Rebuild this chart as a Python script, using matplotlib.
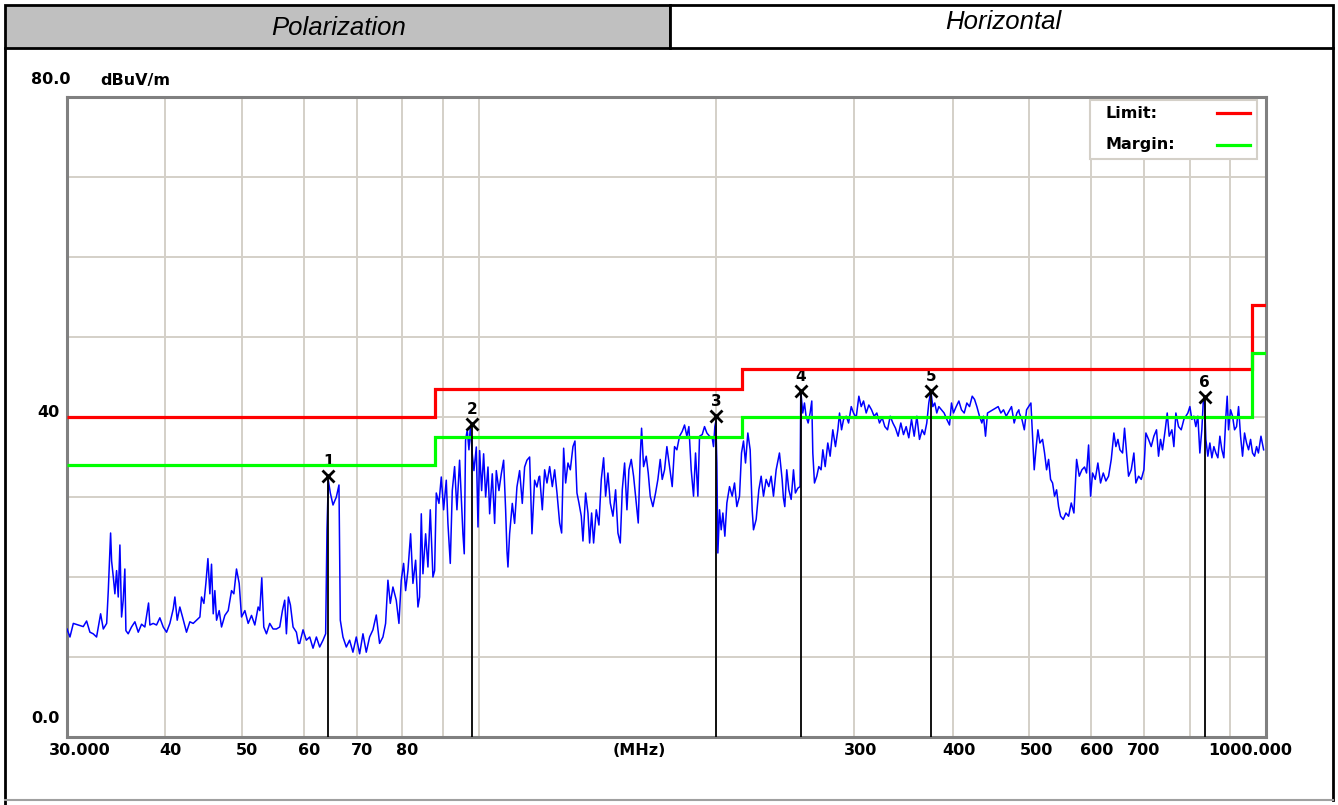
import matplotlib
matplotlib.use('Agg')
import matplotlib.pyplot as plt
import matplotlib.transforms as mtransforms
from matplotlib import font_manager
from matplotlib.patches import Rectangle
from matplotlib.lines import Line2D

trace_freq = [
    30.00, 30.26, 30.56, 31.00, 31.46, 31.77, 32.08, 32.39, 32.71, 33.10, 33.36, 33.69, 33.85, 34.08,
    34.18, 34.35, 34.51, 34.68, 34.85, 35.02, 35.19, 35.36, 35.53, 35.64, 35.88, 36.23, 36.59, 36.95,
    37.31, 37.67, 38.08, 38.23, 38.60, 38.98, 39.36, 39.75, 40.14, 40.53, 40.93, 41.13, 41.41, 41.73,
    42.06, 42.55, 42.97, 43.39, 43.82, 44.25, 44.46, 44.77, 45.03, 45.30, 45.56, 45.78, 46.01, 46.23,
    46.46, 46.82, 47.14, 47.60, 48.07, 48.54, 48.87, 49.25, 49.64, 49.98, 50.47, 50.96, 51.46, 51.96,
    52.47, 52.72, 53.03, 53.34, 53.76, 54.28, 54.81, 55.35, 55.89, 56.33, 56.71, 56.99, 57.32, 57.66,
    58.11, 58.68, 59.02,
    59.25, 59.83, 60.41, 61.01, 61.60, 62.21, 62.81, 63.43, 63.92, 64.17, 64.42, 64.80, 65.31, 65.95,
    66.46, 66.72, 67.24, 67.90, 68.56, 69.23, 69.91, 70.60, 71.29, 71.98, 72.69, 73.40, 74.12, 74.84,
    75.58, 76.17, 76.69, 77.22, 77.82, 78.58, 79.20, 79.74, 80.29, 80.76, 81.31, 81.95, 82.51, 83.16,
    83.73, 84.13, 84.55, 84.96, 85.63, 86.21, 86.80, 87.48, 87.91, 88.34, 89.03, 89.64, 90.25, 90.96,
    91.40, 92.03, 92.57, 93.20, 93.84, 94.57, 95.03, 95.50, 95.87, 96.24, 96.72, 97.19, 97.57, 98.14,
    98.63, 99.31, 99.80, 100.28, 100.87, 101.46, 102.06, 102.76, 103.26, 104.06, 104.78, 105.29,
    106.11, 106.84, 107.57, 108.20, 108.62, 108.94, 109.47, 110.33, 111.08, 111.84, 112.72, 113.60,
    114.38, 115.16, 116.07, 116.86, 117.77, 118.58, 119.28,
    119.52, 120.45, 121.28, 122.11, 123.07, 124.03, 124.88, 125.74, 126.72, 127.46, 128.21, 128.96,
    129.84, 130.73, 131.75, 132.52, 133.30, 134.08, 135.00, 135.66, 136.72, 137.66, 138.33, 139.14,
    139.95, 141.05, 142.15, 143.13, 144.11, 144.95, 145.94, 146.94, 148.09, 149.25, 150.27, 151.30,
    152.19, 153.23, 154.28, 155.18, 156.24, 157.31, 158.54, 159.47, 160.40, 161.03, 161.97, 163.24,
    164.20, 165.16, 166.45, 167.75, 168.90, 170.05, 171.05, 172.22, 173.40, 174.75, 176.12, 177.33,
    178.54, 179.94, 181.35, 182.59, 183.84, 184.92, 186.18, 187.46, 188.56, 189.85, 190.78, 192.27,
    193.58, 194.91, 196.43, 197.97, 198.74, 199.52, 200.10, 200.69, 201.28, 202.27, 203.25, 204.25,
    205.44, 206.65, 208.26, 209.89, 211.33, 212.77, 214.43, 215.69, 216.95, 218.23, 219.72, 221.22,
    222.52, 223.39, 225.14, 226.90, 228.45, 230.01, 231.81, 233.62, 235.22, 236.83, 238.69, 240.56,
    241.0, 242.9, 243.8, 244.8, 246.2, 247.7, 249.4, 251.1, 252.5, 254.3, 256.0, 256.5, 258.0, 259.3,
    260.5, 262.1, 263.6, 264.9, 265.7, 267.0, 268.8, 270.4, 272.2, 273.6, 275.5, 277.6, 279.5, 281.7,
    283.9, 285.9, 287.3, 289.0, 290.7, 293.0, 295.0, 297.3, 299.3, 301.6, 304.0, 306.1, 308.2, 310.6,
    313.0, 315.5, 317.9, 320.4, 322.9, 325.5, 328.0, 330.6, 333.2, 335.8, 338.4, 341.0, 343.7, 346.4,
    349.1, 351.8, 354.6, 357.4, 360.2, 363.0, 365.8, 368.3, 370.8, 373.0, 375.2, 377.4, 379.6, 381.8,
    384.1, 387.1, 390.1, 393.2, 396.3, 398.6, 400.9, 404.1, 407.3, 410.4, 413.7, 416.9, 420.2, 423.5,
    426.4, 429.3, 432.6, 435.6, 437.7, 440.3, 442.9, 446.3, 449.8, 453.4, 456.9, 460.5, 464.1, 467.8,
    471.4, 475.1, 478.8, 482.6, 485.4,
    486.0, 489.8, 493.2, 496.5, 499.4, 502.8, 505.3, 507.7, 510.2, 513.2, 516.2, 520.2, 523.3, 526.4,
    529.5, 532.6, 535.7, 538.8, 542.0, 545.2, 548.4, 552.7, 557.0, 561.4, 565.8, 570.2, 574.7, 579.2,
    583.7, 588.2, 591.7, 595.2, 598.7, 602.2, 606.9, 611.6, 616.4, 621.3, 626.1, 631.0, 636.0, 640.9,
    644.7, 648.5, 652.3, 657.4, 661.2, 665.1, 669.0, 674.3, 679.5, 683.5, 688.9, 694.3, 699.7, 703.8,
    709.3, 714.8, 720.4, 726.0, 730.3, 734.6, 738.9, 744.7, 749.1, 753.5, 759.4, 763.8, 768.3, 774.3,
    780.4, 786.5, 791.1, 795.7, 800.4, 805.1, 809.8, 814.5, 819.3, 824.1, 828.9, 832.2, 835.4, 838.7,
    843.6, 848.6, 853.6, 858.6, 863.6, 868.7, 873.8, 878.9, 884.0, 889.3, 892.7, 896.2, 901.5, 906.8,
    912.1, 917.5, 922.9, 928.3, 933.7, 939.2, 944.7, 950.3, 955.9, 961.4, 967.1, 972.8, 978.0, 985.4,
    993.1,
]
trace_level = [
    13.5, 12.5, 14.2, 14.0, 13.8, 14.5, 13.1, 12.9, 12.5, 15.4, 13.5, 14.2, 18.3, 25.5,
    22.0, 20.0, 17.9, 20.8, 17.5, 24.0, 15.0, 17.1, 21.0, 13.3, 12.9, 13.75, 14.4, 13.1,
    14.1, 13.75, 16.75, 14.0, 14.2, 14.0, 14.9, 13.75, 13.1, 14.2, 16.0, 17.5, 14.6, 16.25,
    15.0, 13.1, 14.4, 14.2, 14.6, 15.0, 17.5, 16.7, 19.2, 22.3, 17.9, 21.6, 15.4, 18.3,
    14.6, 15.8, 13.75, 15.2, 15.8, 18.3, 17.9, 21.0, 19.2, 15.0, 15.8, 14.2, 15.2, 14.0,
    16.25, 15.8, 19.9, 13.75, 12.9, 14.2, 13.5, 13.5, 13.75, 15.8, 17.1, 12.9, 17.5, 16.5,
    13.75, 13.1, 11.7,
    11.7, 13.4, 12.1, 12.5, 11.1, 12.5, 11.25, 12.1, 12.9, 25.9, 32.1, 30.5, 29.0, 30.0,
    31.5, 14.6, 12.5, 11.25, 12.1, 10.6, 12.5, 10.4, 12.9, 10.6, 12.5, 13.4, 15.25, 11.7,
    12.5, 14.2, 19.6, 16.7, 18.75, 17.1, 14.2, 19.6, 21.7, 18.3, 20.8, 25.4, 19.2, 22.1,
    16.25, 17.5, 27.9, 20.4, 25.4, 21.25, 28.4, 20.0, 20.8, 30.5, 29.2, 32.5, 28.4, 32.1,
    26.7, 21.7, 30.8, 33.8, 28.4, 34.6, 30.0, 25.4, 22.9, 37.1, 38.4, 35.9, 38.75, 35.4,
    33.3, 36.25, 26.25, 35.8, 30.8, 35.4, 30.0, 33.75, 27.9, 32.9, 26.7, 33.3,
    30.8, 32.9, 34.6, 28.4, 23.3, 21.25, 25.4, 29.2, 26.7, 31.25, 33.3, 29.2,
    33.75, 34.6, 35.0, 25.4, 32.1, 31.25, 32.5,
    32.6, 28.4, 33.4, 31.75, 33.8, 31.3, 33.4, 30.5, 26.75, 25.5, 36.1, 31.75,
    34.25, 33.4, 36.3, 37.0, 30.5, 29.25, 27.6, 24.5, 30.5, 28.0, 24.25, 28.0,
    24.25, 28.4, 26.5, 32.2, 34.9, 30.1, 33.0, 29.25, 27.6, 30.9, 25.5, 24.25,
    30.9, 34.25, 28.4, 33.4, 34.7, 32.6, 29.25, 26.75, 35.1, 38.6, 33.8, 35.1,
    33.0, 30.1, 28.8, 30.5, 32.2, 34.7, 32.2, 33.4, 36.3, 33.8, 31.3, 36.3,
    35.9, 37.6, 38.2, 39.0, 37.6, 38.8, 33.4, 30.1, 35.5, 30.1, 37.6, 37.8,
    38.8, 38.0, 37.6, 37.4, 36.3, 38.8, 39.5, 34.25, 23.0, 28.4, 25.9, 28.0,
    25.1, 29.25, 31.3, 30.1, 31.75, 28.8, 30.1, 35.5, 37.0, 34.25, 38.0, 35.9,
    28.4, 25.9, 27.2, 30.9, 32.6, 30.1, 32.2, 31.3, 32.6, 30.1, 33.4, 35.1,
    35.5, 32.2, 29.9, 28.8, 33.4, 30.9, 29.7, 33.4, 30.5, 31.1, 31.3, 43.3, 40.5, 41.75,
    40.1, 39.25, 40.5, 42.0, 35.5, 31.75, 32.6, 33.8, 33.4, 35.9, 33.8, 36.75, 35.1, 38.4,
    36.3, 38.4, 40.5, 38.4, 39.7, 40.1, 39.25, 41.3, 40.5, 39.9, 42.6, 41.3, 42.0, 40.5,
    41.5, 40.9, 40.1, 40.5, 39.25, 39.9, 38.8, 38.4, 40.1, 39.25, 38.6, 37.6, 39.25, 37.8,
    38.8, 37.4, 39.7, 37.6, 40.1, 37.2, 38.4, 37.8, 39.25, 41.75, 43.3, 41.3, 41.75, 40.5,
    41.3, 40.9, 40.5, 39.7, 39.0, 41.75, 40.5, 41.3, 42.0, 40.9, 40.5, 41.75, 41.3, 42.6,
    42.2, 41.3, 40.1, 39.25, 40.1, 37.6, 40.5, 40.7, 40.9, 41.1, 41.3, 40.5, 40.9, 40.1,
    40.7, 41.3, 39.25, 40.5, 40.9,
    40.5, 39.7, 38.4, 40.9, 41.3, 41.75, 37.6, 33.4, 35.9, 38.4, 36.75, 37.2, 35.5, 33.4,
    34.7, 32.2, 31.75, 30.1, 30.9, 28.8, 27.6, 27.2, 28.0, 27.6, 29.25, 28.0, 34.7, 32.6,
    33.4, 33.75, 33.0, 36.5, 30.1, 33.0, 32.2, 34.25, 31.75, 33.0, 32.0, 32.6, 34.7, 38.0,
    36.3, 37.2, 35.9, 35.5, 38.6, 35.5, 32.6, 33.4, 35.5, 31.75, 32.6, 32.2, 33.4, 38.0,
    37.2, 36.3, 37.6, 38.4, 35.1, 37.2, 35.9, 38.4, 40.5, 37.6, 38.4, 36.3, 40.5, 38.8,
    38.4, 39.7, 40.1, 40.5, 41.3, 39.7, 40.1, 38.8, 40.1, 35.5, 38.4, 41.75, 42.5, 37.2,
    35.1, 36.75, 34.9, 36.3, 35.5, 34.9, 37.6, 35.9, 34.9, 40.1, 42.6, 38.4, 40.9, 40.1,
    38.4, 38.8, 41.3, 37.6, 35.1, 38.0, 36.75, 35.9, 37.2, 35.5, 35.1, 36.3, 35.5, 37.6,
    35.9,
]

# FCC class B style limit and margin (limit - 6 dB)
limit_edges = [30, 88, 216, 960, 1000]
limit_values = [40, 43.5, 46, 54]
margin_values = [34, 37.5, 40, 48]

marker_ids = ['1', '2', '3', '4', '5', '6']
marker_freq = [64.4, 98.0, 200.1, 256.5, 375.2, 835.4]
marker_level = [32.6, 39.1, 40.1, 43.3, 43.3, 42.5]

grid_freq = [40, 50, 60, 70, 80, 90, 100, 200, 300, 400, 500, 600, 700, 800, 900]
tick_freq = [30, 40, 50, 60, 70, 80, 300, 400, 500, 600, 700, 1000]
tick_text = ['30.000', '40', '50', '60', '70', '80', '300', '400', '500', '600', '700', '1000.000']
tick_shift = [13, 5, 5, 5, 5, 5, 6, 6, 8, 5, 0, -16]  # pixel nudges like the original
unit_freq = 160  # where "(MHz)" sits on the axis

W, H = 1338, 805
installed = {f.name for f in font_manager.fontManager.ttflist}
label_font = 'Liberation Sans Narrow' if 'Liberation Sans Narrow' in installed else 'DejaVu Sans'
head_font = 'Liberation Sans' if 'Liberation Sans' in installed else 'DejaVu Sans'

fig = plt.figure(figsize=(W / 100, H / 100), dpi=100)
fig.patch.set_facecolor('white')


def fx(px):
    return px / W


def fy(py):
    return 1 - py / H


# header row
fig.add_artist(Rectangle((fx(5), fy(48)), fx(665), fy(5) - fy(48), transform=fig.transFigure,
                         facecolor='#c0c0c0', edgecolor='black', lw=2))
fig.add_artist(Rectangle((fx(670), fy(48)), fx(663), fy(5) - fy(48), transform=fig.transFigure,
                         facecolor='white', edgecolor='black', lw=2))
fig.text(fx(339), fy(28), 'Polarization', ha='center', va='center', fontsize=18.5,
         style='italic', family=head_font)
fig.text(fx(1003), fy(22), 'Horizontal', ha='center', va='center', fontsize=18.5,
         style='italic', family=head_font)
# outer frame below header
fig.add_artist(Line2D([fx(5), fx(5)], [fy(48), fy(805)], transform=fig.transFigure, color='black', lw=2))
fig.add_artist(Line2D([fx(1333), fx(1333)], [fy(48), fy(800)], transform=fig.transFigure, color='black', lw=2))
fig.add_artist(Line2D([fx(5), fx(1333)], [fy(800), fy(800)], transform=fig.transFigure, color='#a0a0a0', lw=1.5))

ax = fig.add_axes([fx(67), fy(737), fx(1266) - fx(67), fy(97) - fy(737)])
ax.set_xscale('log')
ax.set_xlim(30, 1000)
ax.set_ylim(0, 80)
ax.set_xticks(grid_freq)
ax.set_xticks([], minor=True)
ax.set_yticks(range(0, 81, 10))
ax.set_xticklabels([])
ax.set_yticklabels([])
ax.tick_params(length=0)
ax.grid(True, color='#d4d0c8', lw=1.4)
ax.set_axisbelow(True)
for s in ax.spines.values():
    s.set_color('#808080')
    s.set_linewidth(2.2)

ax.plot(trace_freq, trace_level, color='#0000ff', lw=1.1, zorder=3)
ax.stairs(limit_values, limit_edges, baseline=None, color='#ff0000', lw=2.3, zorder=4)
ax.stairs(margin_values, limit_edges, baseline=None, color='#00ff00', lw=2.3, zorder=4)

ax.vlines(marker_freq, 0, marker_level, color='black', lw=1.3, zorder=5)
ax.plot(marker_freq, marker_level, ls='none', marker='x', ms=9, mew=2, color='black', zorder=6)
for f, v, t in zip(marker_freq, marker_level, marker_ids):
    ax.annotate(t, (f, v), xytext=(0, 5), textcoords='offset points', ha='center', va='bottom',
                fontsize=11, fontweight='bold', family=label_font)

# x labels
bt = mtransforms.blended_transform_factory(ax.transData, ax.transAxes)
for f, t, dx in zip(tick_freq, tick_text, tick_shift):
    tr = mtransforms.offset_copy(bt, fig=fig, x=dx, y=-13, units='dots')
    ax.text(f, 0, t, transform=tr, ha='center', va='center', fontsize=11.5,
            fontweight='bold', family=label_font)
tr = mtransforms.offset_copy(bt, fig=fig, x=0, y=-13, units='dots')
ax.text(unit_freq, 0, '(MHz)', transform=tr, ha='center', va='center',
        fontsize=11.5, fontweight='bold', family=label_font)

# y labels
yt = mtransforms.blended_transform_factory(ax.transAxes, ax.transData)
ax.text(-0.006, 40, '40', transform=mtransforms.offset_copy(yt, fig=fig, x=0, y=5, units='dots'),
        ha='right', va='center', fontsize=11.5, fontweight='bold', family=label_font)
ax.text(-0.006, 0, '0.0', transform=mtransforms.offset_copy(yt, fig=fig, x=0, y=19, units='dots'),
        ha='right', va='center', fontsize=11.5, fontweight='bold', family=label_font)
ax.text(0.003, 80, '80.0', transform=mtransforms.offset_copy(yt, fig=fig, x=0, y=17, units='dots'),
        ha='right', va='center', fontsize=11.5, fontweight='bold', family=label_font)
ax.text(0.028, 80, 'dBuV/m', transform=mtransforms.offset_copy(yt, fig=fig, x=0, y=17, units='dots'),
        ha='left', va='center', fontsize=11.5, fontweight='bold', family=label_font)

# legend box, text left and line right
ax.add_patch(Rectangle((0.853, 0.903), 0.1395, 0.092, transform=ax.transAxes, facecolor='white',
                       edgecolor='#d4d0c8', lw=1.5, zorder=7))
for yy, name, col in [(0.975, 'Limit:', '#ff0000'), (0.925, 'Margin:', '#00ff00')]:
    ax.text(0.866, yy, name, transform=ax.transAxes, ha='left', va='center', fontsize=11.5,
            fontweight='bold', family=label_font, zorder=8)
    ax.add_line(Line2D([0.959, 0.987], [yy, yy], transform=ax.transAxes, color=col, lw=2.3, zorder=8))

fig.savefig('out.png', dpi=100)
